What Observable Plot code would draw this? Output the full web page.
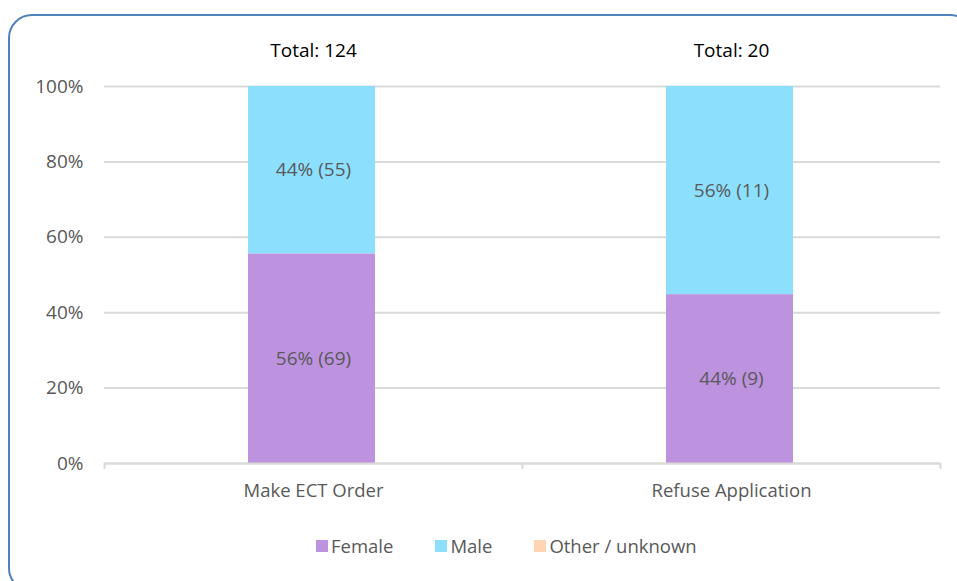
<!DOCTYPE html>
<html>
<head>
<meta charset="utf-8">
<script src="https://cdn.jsdelivr.net/npm/d3@7"></script>
<script src="https://cdn.jsdelivr.net/npm/@observablehq/plot@0.6"></script>
<style>
  html, body { margin: 0; padding: 0; background: #fff; }
  #wrap { position: relative; width: 957px; height: 581px; overflow: hidden; font-family: "Open Sans", sans-serif; }
  #frame { position: absolute; left: 8px; top: 14px; width: 966px; height: 578px; border: 2.5px solid #4f81bd; border-radius: 24px; box-sizing: border-box; }
  #chart { position: absolute; left: 0; top: 0; }
  #legend { position: absolute; left: 316px; top: 533px; display: flex; gap: 42px; font-size: 18.5px; color: #595959; }
  #legend .item { display: flex; align-items: center; }
  #legend .sw { width: 12px; height: 12px; margin-right: 3px; }
</style>
</head>
<body>
<div id="wrap">
  <div id="frame"></div>
  <div id="chart"></div>
  <div id="legend"></div>
</div>
<script>
const categories = ["Make ECT Order", "Refuse Application"];
const series = ["Female", "Male", "Other / unknown"];
const colors = ["#bd92df", "#8ce0fd", "#fdd5b2"];
// counts per category
const femaleCounts = [69, 9];
const maleCounts = [55, 11];
const otherCounts = [0, 0];
// share of bar height (%)
const femalePct = [55.6, 44.8];
const malePct = [44.4, 55.2];
const otherPct = [0, 0];
// percent labels as printed
const femaleLabels = ["56%", "44%"];
const maleLabels = ["44%", "56%"];
const otherLabels = ["", ""];
const yTicks = [0, 20, 40, 60, 80, 100];

const counts = [femaleCounts, maleCounts, otherCounts];
const pcts = [femalePct, malePct, otherPct];
const labels = [femaleLabels, maleLabels, otherLabels];

const data = [];
categories.forEach((c, i) => {
  series.forEach((s, j) => {
    data.push({category: c, sex: s, pct: pcts[j][i], count: counts[j][i], label: `${labels[j][i]} (${counts[j][i]})`});
  });
});
const totals = categories.map((c, i) => ({category: c, total: femaleCounts[i] + maleCounts[i] + otherCounts[i]}));

const W = 957, mL = 104, mR = 17;
const half = (W - mL - mR) / categories.length / 2;

const chart = Plot.plot({
  width: W,
  height: 515,
  marginTop: 86,
  marginBottom: 52,
  marginLeft: mL,
  marginRight: mR,
  style: {fontFamily: "'Open Sans', sans-serif", fontSize: "18px", color: "#595959", background: "transparent"},
  x: {domain: categories, padding: 0, axis: null},
  y: {domain: [0, 100], axis: null, label: null},
  color: {domain: series, range: colors},
  marks: [
    Plot.gridY(yTicks, {stroke: "#d9d9d9", strokeOpacity: 1, strokeWidth: 2}),
    Plot.barY(data, {x: "category", y: "pct", fill: "sex", insetLeft: 144, insetRight: 147}),
    Plot.ruleY([0], {stroke: "#d9d9d9", strokeWidth: 2}),
    Plot.ruleX(categories, {x: d => d, y1: 0, y2: 0, dx: -half, insetBottom: -6, stroke: "#d9d9d9", strokeWidth: 2}),
    Plot.ruleX(categories.slice(-1), {x: d => d, y1: 0, y2: 0, dx: half, insetBottom: -6, stroke: "#d9d9d9", strokeWidth: 2}),
    Plot.text(data.filter(d => d.count > 0), Plot.stackY({x: "category", y: "pct", text: "label", fill: "#595959", fontSize: 19})),
    Plot.text(totals, {x: "category", y: 100, text: d => `Total: ${d.total}`, dy: -36, fill: "#000", fontSize: 19}),
    Plot.axisY(yTicks, {tickSize: 0, tickPadding: 21, tickFormat: d => d + "%", fill: "#595959", fontSize: 19, label: null}),
    Plot.axisX({tickSize: 0, tickPadding: 20, fill: "#595959", fontSize: 18.5, label: null})
  ]
});
document.getElementById("chart").appendChild(chart);

const legend = document.getElementById("legend");
series.forEach((s, j) => {
  const item = document.createElement("div");
  item.className = "item";
  const sw = document.createElement("div");
  sw.className = "sw";
  sw.style.background = colors[j];
  const t = document.createElement("span");
  t.textContent = s;
  item.appendChild(sw);
  item.appendChild(t);
  legend.appendChild(item);
});
</script>
</body>
</html>
